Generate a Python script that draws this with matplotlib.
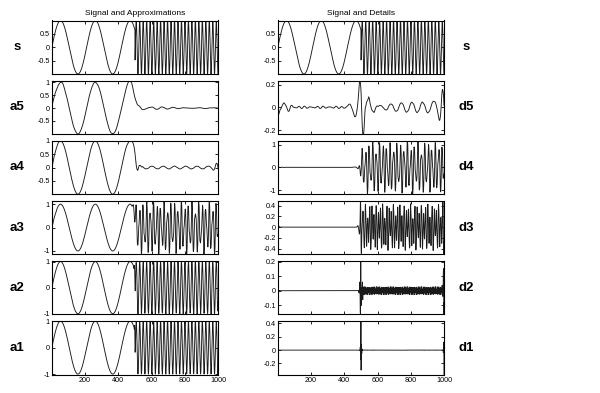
import numpy as np
import matplotlib.pyplot as plt

# signal: two sine pieces with a frequency break at sample 500
n_samples = 1000
break_at = 500
omega_low = 0.03
omega_high = 0.3

# db5 scaling (reconstruction low-pass) filter
db5 = np.array([0.16010239797419293, 0.6038292697971896, 0.7243085284377729,
                0.13842814590132074, -0.24229488706638203, -0.032244869584638375,
                0.07757149384004571, -0.006241490212798274, -0.012580751999081999,
                0.0033357252854737712])
level = 5

left_names = ['s', 'a5', 'a4', 'a3', 'a2', 'a1']
right_names = ['s', 'd5', 'd4', 'd3', 'd2', 'd1']
left_yticks = [[-0.5, 0, 0.5], [-0.5, 0, 0.5, 1], [-0.5, 0, 0.5, 1],
               [-1, 0, 1], [-1, 0, 1], [-1, 0, 1]]
right_yticks = [[-0.5, 0, 0.5], [-0.2, 0, 0.2], [-1, 0, 1],
                [-0.4, -0.2, 0, 0.2, 0.4], [-0.1, 0, 0.1, 0.2], [-0.2, 0, 0.2, 0.4]]
xticks = [200, 400, 600, 800, 1000]

t = np.arange(1, n_samples + 1)
s = np.where(t <= break_at, np.sin(omega_low * t), np.sin(omega_high * t))

lo_r = db5
lo_d = lo_r[::-1]
hi_r = lo_r[::-1].copy()
hi_r[1::2] *= -1
hi_d = hi_r[::-1]
lf = len(lo_r)


def dwt(x):
    # zero padding extension
    ext = np.pad(x, lf - 1, mode='constant')
    a = np.convolve(ext, lo_d, 'valid')[1::2]
    d = np.convolve(ext, hi_d, 'valid')[1::2]
    return a, d


def upconv(c, f, lx):
    up = np.zeros(2 * len(c) - 1)
    up[::2] = c
    y = np.convolve(up, f)
    first = (len(y) - lx) // 2
    return y[first:first + lx]


# wavedec
lengths = [len(s)]
approx = [s]
details = []
a = s
for k in range(level):
    a, d = dwt(a)
    approx.append(a)
    details.append(d)
    lengths.append(len(a))


def rebuild(kind, k):
    # reconstruct a single component (approximation or detail of level k)
    if kind == 'a':
        cur = upconv(approx[k], lo_r, lengths[k - 1])
    else:
        cur = upconv(details[k - 1], hi_r, lengths[k - 1])
    for j in range(k - 1, 0, -1):
        cur = upconv(cur, lo_r, lengths[j - 1])
    return cur


left_data = [s] + [rebuild('a', k) for k in range(5, 0, -1)]
right_data = [s] + [rebuild('d', k) for k in range(5, 0, -1)]

plt.rcParams['font.family'] = ['Liberation Sans', 'DejaVu Sans']
W, H = 600, 393
fig = plt.figure(figsize=(6, 3.93), dpi=100)

col_x = [52, 278]
col_w = 166
row_top = 20.5
row_step = 60.1
row_h = 53.5


def setup(ax, data, yt, last):
    ax.plot(t, data, color='#1a1a1a', lw=0.65)
    ax.set_xlim(1, n_samples)
    ax.set_ylim(data.min(), data.max())
    ax.set_xticks(xticks)
    ax.set_yticks(yt)
    ax.set_yticklabels(['%g' % v for v in yt])
    ax.tick_params(direction='in', length=2, width=0.6, labelsize=5.2, pad=1.5,
                   top=True, right=True)
    if not last:
        ax.set_xticklabels([])
    for sp in ax.spines.values():
        sp.set_linewidth(0.8)


for col in range(2):
    data_list = left_data if col == 0 else right_data
    ticks_list = left_yticks if col == 0 else right_yticks
    names = left_names if col == 0 else right_names
    for r in range(6):
        top = row_top + r * row_step
        ax = fig.add_axes([col_x[col] / W, 1 - (top + row_h) / H, col_w / W, row_h / H])
        setup(ax, data_list[r], ticks_list[r], r == 5)
        yc = 1 - (top + row_h / 2) / H
        if col == 0:
            fig.text(17 / W, yc, names[r], ha='center', va='center',
                     fontsize=9.5, fontweight='bold')
        else:
            fig.text(466 / W, yc, names[r], ha='center', va='center',
                     fontsize=9.5, fontweight='bold')
        if r == 0:
            ax.set_title('Signal and Approximations' if col == 0 else 'Signal and Details',
                         fontsize=6, pad=4)

fig.savefig('out.png', dpi=100)
